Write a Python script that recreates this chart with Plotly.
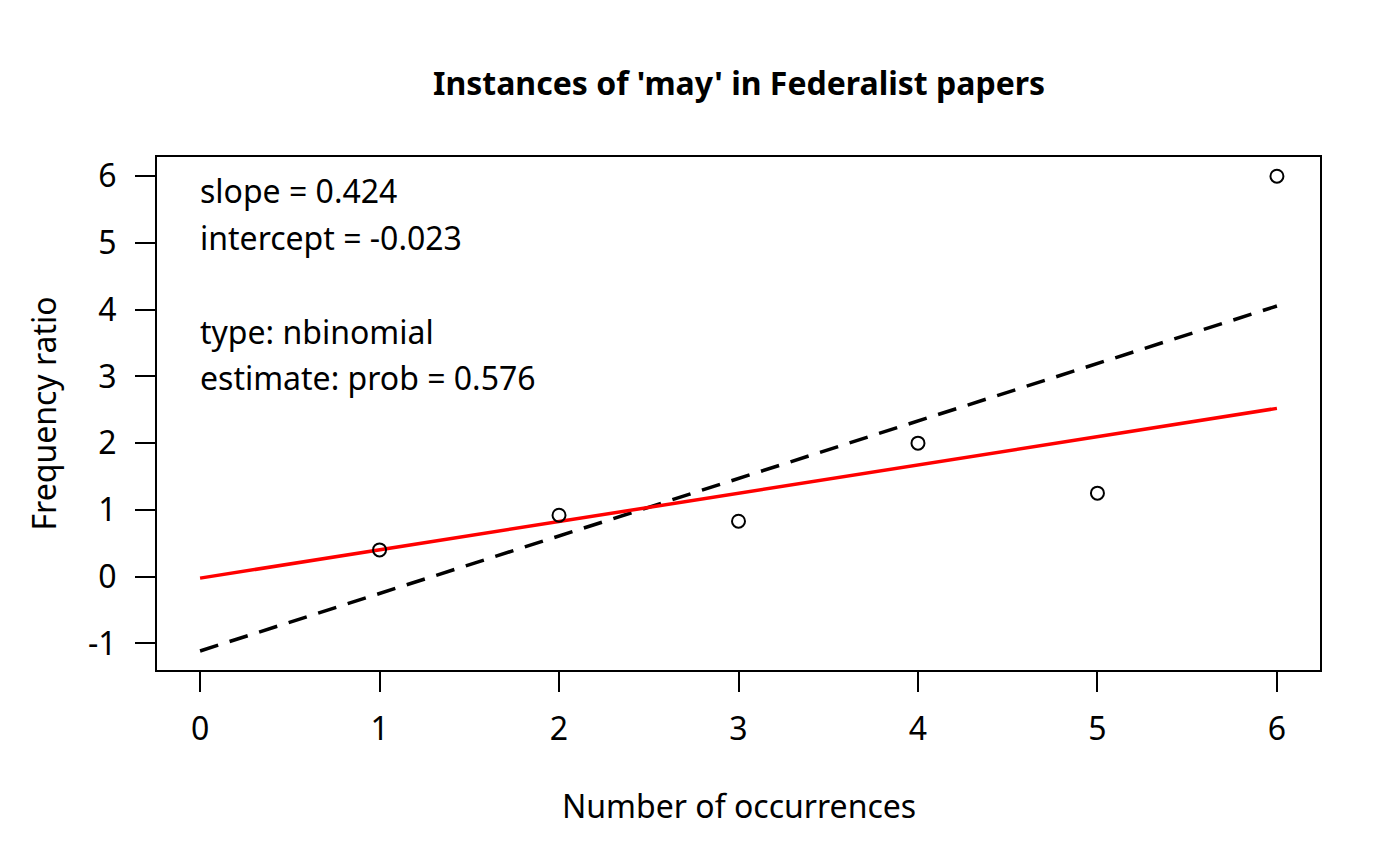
import plotly.graph_objects as go

# Ord plot values
occurrences = [1, 2, 3, 4, 5, 6]
freq_ratio = [0.40, 0.92, 0.83, 2.00, 1.25, 6.00]

# fitted lines (end points)
line_x = [0, 6]
robust_fit = [-0.023, 2.521]   # red, slope 0.424
ls_fit = [-1.115, 4.055]       # black dashed

x_ticks = [0, 1, 2, 3, 4, 5, 6]
y_ticks = [-1, 0, 1, 2, 3, 4, 5, 6]
y_tick_labels = ["-1", "0", "1", "2", "3", "4", "5", "6"]

info_lines = ["slope = 0.424", "intercept = -0.023", "",
              "type: nbinomial", "estimate: prob = 0.576"]

FONT = "Noto Sans"
FS = 32
W, H = 1400, 866

fig = go.Figure()
fig.add_trace(go.Scatter(x=line_x, y=ls_fit, mode="lines",
                         line=dict(color="black", width=3.5, dash="19px,12px")))
fig.add_trace(go.Scatter(x=line_x, y=robust_fit, mode="lines",
                         line=dict(color="red", width=3.5)))
fig.add_trace(go.Scatter(x=occurrences, y=freq_ratio, mode="markers",
                         marker=dict(symbol="circle-open", size=13, color="black",
                                     line=dict(width=2, color="black"))))

axis_style = dict(showline=True, mirror=True, linecolor="black", linewidth=2,
                  ticks="outside", ticklen=20, tickwidth=2, tickcolor="black",
                  showgrid=False, zeroline=False, automargin=False,
                  tickfont=dict(family=FONT, size=FS, color="black"))

fig.update_layout(
    template="none",
    width=W, height=H,
    margin=dict(l=0, r=0, t=0, b=0, pad=0),
    plot_bgcolor="white", paper_bgcolor="white",
    showlegend=False,
    xaxis=dict(range=[-0.24, 6.24], domain=[157/W, 1320/W],
               tickvals=x_ticks, ticklabelstandoff=10, **axis_style),
    yaxis=dict(range=[-1.40, 6.288], domain=[1 - 670/H, 1 - 157/H],
               tickvals=y_ticks, ticktext=y_tick_labels, ticklabelstandoff=12,
               **axis_style),
)

# title and axis titles
fig.add_annotation(text="<b>Instances of 'may' in Federalist papers</b>",
                   x=738.5/W, y=1 - 82/H, xref="paper", yref="paper",
                   xanchor="center", yanchor="middle",
                   showarrow=False, font=dict(family=FONT, size=FS, color="black"))
fig.add_annotation(text="Number of occurrences", x=738.5/W, y=1 - 805/H,
                   xref="paper", yref="paper", xanchor="center", yanchor="middle",
                   showarrow=False, font=dict(family=FONT, size=FS, color="black"))
fig.add_annotation(text="Frequency ratio", x=43/W, y=1 - 413.5/H, textangle=-90,
                   xref="paper", yref="paper", xanchor="center", yanchor="middle",
                   showarrow=False, font=dict(family=FONT, size=FS, color="black"))

# fit information in the top left corner
for i, txt in enumerate(info_lines):
    if not txt:
        continue
    fig.add_annotation(text=txt, x=0, y=1 - (190 + 47 * i)/H, xref="x", yref="paper",
                       xanchor="left", yanchor="middle", showarrow=False, xshift=-2,
                       font=dict(family=FONT, size=FS, color="black"))

# drop the default body margin so the figure sits at the window corner
fig.write_html("out.html", config={"displayModeBar": False},
               post_script="document.body.style.margin='0px';")
